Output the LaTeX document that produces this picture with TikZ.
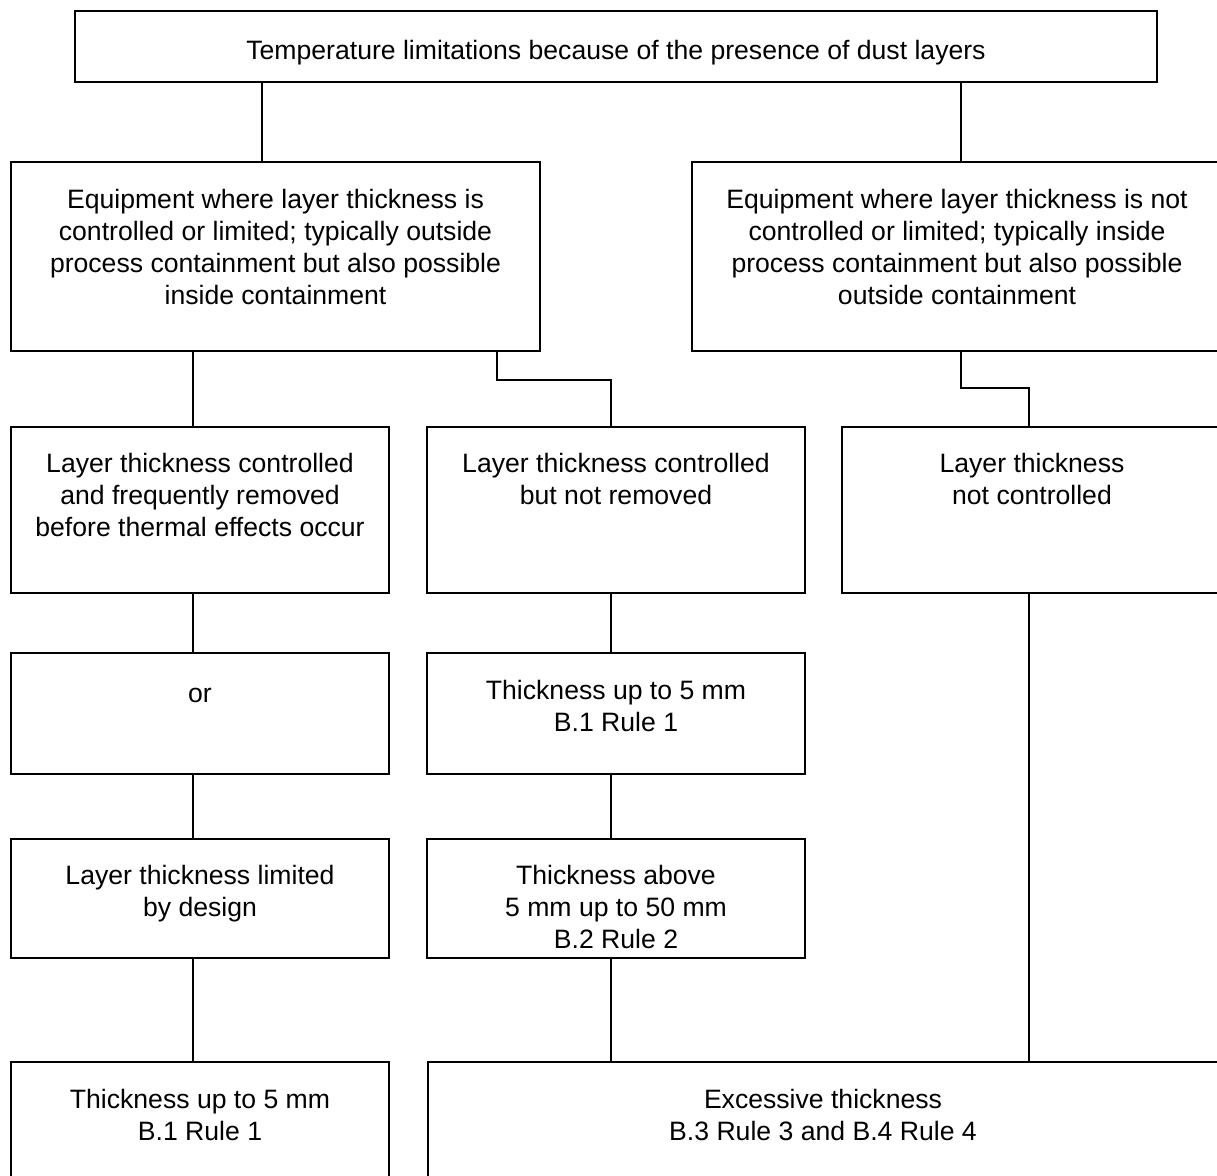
\documentclass[tikz,border=0pt]{standalone}
\usepackage{fontspec}
\setmainfont{Liberation Sans}
\begin{document}
\begin{tikzpicture}[x=1pt,y=-1pt,
  box/.style={draw=black, line width=1.8pt, rectangle, inner sep=0pt, outer sep=0pt, anchor=north west},
  lbl/.style={anchor=north, inner sep=0pt, align=center, font=\fontsize{26.6}{32}\selectfont, execute at begin node=\strut},
  conn/.style={draw=black, line width=1.8pt}]
\useasboundingbox (0,0) rectangle (1217,1175);
\clip (0,0) rectangle (1217,1175);
% boxes
\node[box, minimum width=1082pt, minimum height=71pt] (top) at (75,11) {};
\node[box, minimum width=529pt, minimum height=189pt] (L2) at (11,162) {};
\node[box, minimum width=530pt, minimum height=189pt] (R2) at (692,162) {};
\node[box, minimum width=378pt, minimum height=166pt] (A3) at (11,427) {};
\node[box, minimum width=378pt, minimum height=166pt] (B3) at (427,427) {};
\node[box, minimum width=380pt, minimum height=166pt] (C3) at (842,427) {};
\node[box, minimum width=378pt, minimum height=121pt] (A4) at (11,653) {};
\node[box, minimum width=378pt, minimum height=121pt] (B4) at (427,653) {};
\node[box, minimum width=378pt, minimum height=119pt] (A5) at (11,839) {};
\node[box, minimum width=378pt, minimum height=119pt] (B5) at (427,839) {};
\node[box, minimum width=378pt, minimum height=130pt] (A6) at (11,1062) {};
\node[box, minimum width=790pt, minimum height=130pt] (B6) at (428,1062) {};
% texts
\node[lbl] (ttop) at (616,37) {Temperature limitations because of the presence of dust layers};
\node[lbl] (tL2) at (275.5,189) {Equipment where layer thickness is\\controlled or limited; typically outside\\process containment but also possible\\inside containment};
\node[lbl] (tR2) at (957,189) {Equipment where layer thickness is not\\controlled or limited; typically inside\\process containment but also possible\\outside containment};
\node[lbl] (tA3) at (200,453) {Layer thickness controlled\\and frequently removed\\before thermal effects occur};
\node[lbl] (tB3) at (616,453) {Layer thickness controlled\\but not removed};
\node[lbl] (tC3) at (1032,453) {Layer thickness\\not controlled};
\node[lbl] (tA4) at (200,680) {or};
\node[lbl] (tB4) at (616,680) {Thickness up to 5 mm\\B.1 Rule 1};
\node[lbl] (tA5) at (200,865) {Layer thickness limited\\by design};
\node[lbl] (tB5) at (616,865) {Thickness above\\5 mm up to 50 mm\\B.2 Rule 2};
\node[lbl] (tA6) at (200,1089) {Thickness up to 5 mm\\B.1 Rule 1};
\node[lbl] (tB6) at (823,1089) {Excessive thickness\\B.3 Rule 3 and B.4 Rule 4};
% connectors
\draw[conn] (top.south -| 262,0) -- (L2.north -| 262,0);
\draw[conn] (top.south -| 961,0) -- (R2.north -| 961,0);
\draw[conn] (L2.south -| 193,0) -- (A3.north -| 193,0);
\draw[conn] (L2.south -| 497,0) |- (611,380) -- (B3.north -| 611,0);
\draw[conn] (R2.south -| 961,0) |- (1029,388) -- (C3.north -| 1029,0);
\draw[conn] (A3.south -| 193,0) -- (A4.north -| 193,0);
\draw[conn] (B3.south -| 611,0) -- (B4.north -| 611,0);
\draw[conn] (A4.south -| 193,0) -- (A5.north -| 193,0);
\draw[conn] (B4.south -| 611,0) -- (B5.north -| 611,0);
\draw[conn] (A5.south -| 193,0) -- (A6.north -| 193,0);
\draw[conn] (B5.south -| 611,0) -- (B6.north -| 611,0);
\draw[conn] (C3.south -| 1029,0) -- (B6.north -| 1029,0);
\end{tikzpicture}
\end{document}
